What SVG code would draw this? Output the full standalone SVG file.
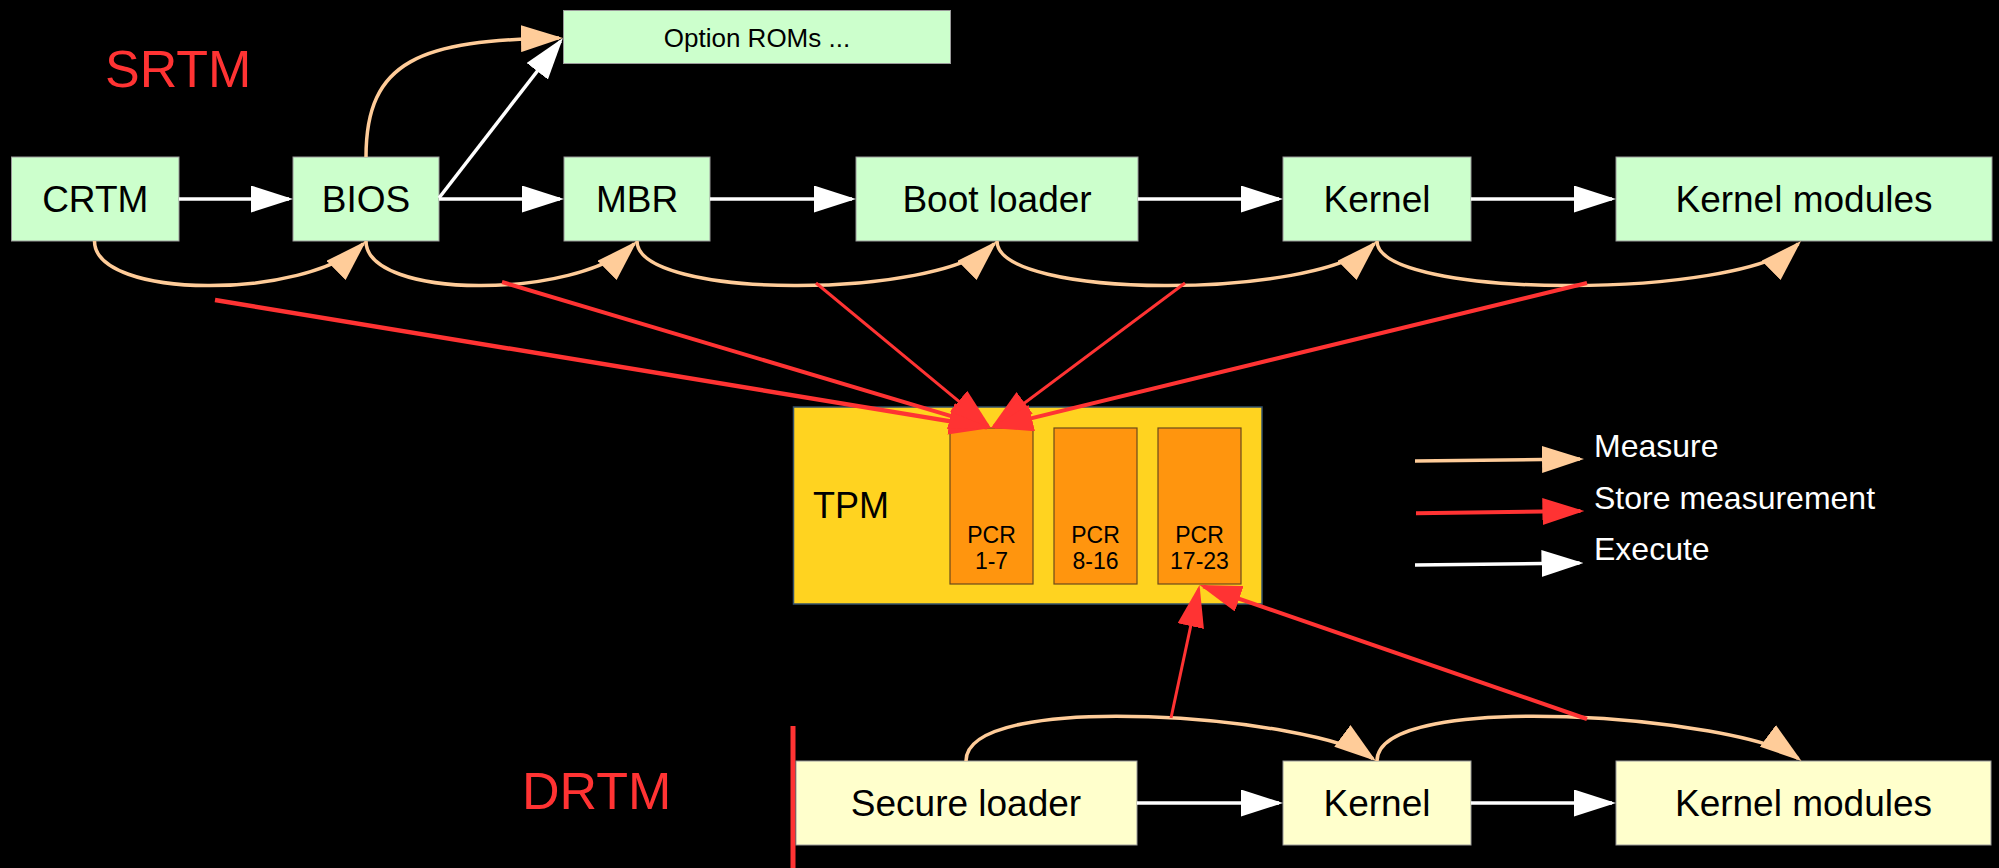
<svg xmlns="http://www.w3.org/2000/svg" width="1999" height="868" viewBox="0 0 1999 868">
  <style>
    .lbl { font-family: "Liberation Sans", Arial, sans-serif; fill: #000000; }
    .node text { font-size: 37px; text-anchor: middle; }
    .srtm { fill: #ccffcc; stroke: #9a9a9a; stroke-width: 1; }
    .drtm { fill: #ffffcc; stroke: #9a9a9a; stroke-width: 1; }
    .pcr { fill: #ff950e; stroke: #6b4a1b; stroke-width: 1.2; }
    .pcr-t { font-size: 23px; text-anchor: middle; }
    .title { font-family: "Liberation Sans", Arial, sans-serif; font-size: 52px; fill: #ff3333; }
    .legend { font-family: "Liberation Sans", Arial, sans-serif; font-size: 32px; fill: #ffffff; }
    .exec { fill: none; stroke: #ffffff; stroke-width: 3.5; marker-end: url(#head-exec); }
    .meas { fill: none; stroke: #ffcc99; stroke-width: 3.5; marker-end: url(#head-meas); }
    .store { fill: none; stroke: #ff3333; stroke-width: 4; marker-end: url(#head-store); }
  </style>
  <defs>
    <marker id="head-exec" markerUnits="userSpaceOnUse" viewBox="0 0 42 27" markerWidth="42" markerHeight="27" refX="38" refY="13.5" orient="auto">
      <path d="M0,0 L42,13.5 L0,27 Z" fill="#ffffff"/>
    </marker>
    <marker id="head-meas" markerUnits="userSpaceOnUse" viewBox="0 0 42 27" markerWidth="42" markerHeight="27" refX="38" refY="13.5" orient="auto">
      <path d="M0,0 L42,13.5 L0,27 Z" fill="#ffcc99"/>
    </marker>
    <marker id="head-store" markerUnits="userSpaceOnUse" viewBox="0 0 42 27" markerWidth="42" markerHeight="27" refX="38" refY="13.5" orient="auto">
      <path d="M0,0 L42,13.5 L0,27 Z" fill="#ff3333"/>
    </marker>
  </defs>

  <rect x="0" y="0" width="1999" height="868" fill="#000000"/>

  <!-- section titles -->
  <text class="title" x="105" y="87">SRTM</text>
  <text class="title" x="522" y="809">DRTM</text>
  <rect x="790.5" y="726" width="5" height="142" fill="#ff3333"/>

  <!-- static root of trust chain -->
  <g id="crtm" class="node lbl">
    <rect class="srtm" x="11.5" y="157" width="167.5" height="84"/>
    <text x="95.25" y="212">CRTM</text>
  </g>
  <g id="bios" class="node lbl">
    <rect class="srtm" x="293" y="157" width="146" height="84"/>
    <text x="366" y="212">BIOS</text>
  </g>
  <g id="option-roms" class="node lbl">
    <rect class="srtm" x="563.5" y="10.5" width="387" height="53"/>
    <text x="757" y="46.5" style="font-size:26px">Option ROMs ...</text>
  </g>
  <g id="mbr" class="node lbl">
    <rect class="srtm" x="564" y="157" width="146" height="84"/>
    <text x="637" y="212">MBR</text>
  </g>
  <g id="boot-loader" class="node lbl">
    <rect class="srtm" x="856" y="157" width="282" height="84"/>
    <text x="997" y="212">Boot loader</text>
  </g>
  <g id="kernel" class="node lbl">
    <rect class="srtm" x="1283" y="157" width="188" height="84"/>
    <text x="1377" y="212">Kernel</text>
  </g>
  <g id="kernel-modules" class="node lbl">
    <rect class="srtm" x="1616" y="157" width="376" height="84"/>
    <text x="1804" y="212">Kernel modules</text>
  </g>

  <!-- TPM with its PCR banks -->
  <g id="tpm" class="lbl">
    <rect x="793.5" y="407" width="468.5" height="197" fill="#ffd320" stroke="#355269" stroke-width="1.5"/>
    <text x="813" y="518" style="font-size:36px">TPM</text>
  </g>
  <g id="pcr-1-7" class="lbl">
    <rect class="pcr" x="950" y="428" width="83" height="156"/>
    <text class="pcr-t" x="991.5" y="543">PCR</text>
    <text class="pcr-t" x="991.5" y="568.5">1-7</text>
  </g>
  <g id="pcr-8-16" class="lbl">
    <rect class="pcr" x="1054" y="428" width="83" height="156"/>
    <text class="pcr-t" x="1095.5" y="543">PCR</text>
    <text class="pcr-t" x="1095.5" y="568.5">8-16</text>
  </g>
  <g id="pcr-17-23" class="lbl">
    <rect class="pcr" x="1158" y="428" width="83" height="156"/>
    <text class="pcr-t" x="1199.5" y="543">PCR</text>
    <text class="pcr-t" x="1199.5" y="568.5">17-23</text>
  </g>

  <!-- dynamic root of trust chain -->
  <g id="secure-loader" class="node lbl">
    <rect class="drtm" x="796" y="761" width="341" height="84"/>
    <text x="966" y="816">Secure loader</text>
  </g>
  <g id="kernel-drtm" class="node lbl">
    <rect class="drtm" x="1283" y="761" width="188" height="84"/>
    <text x="1377" y="816">Kernel</text>
  </g>
  <g id="kernel-modules-drtm" class="node lbl">
    <rect class="drtm" x="1616" y="761" width="375" height="84"/>
    <text x="1803.5" y="816">Kernel modules</text>
  </g>

  <g id="connectors">
    <!-- execute -->
    <path class="exec" d="M179 199 L289 199"/>
    <path class="exec" d="M439 199 L560 199"/>
    <path class="exec" d="M710 199 L852 199"/>
    <path class="exec" d="M1138 199 L1279 199"/>
    <path class="exec" d="M1471 199 L1612 199"/>
    <path class="exec" d="M439 198 L560.5 41.2"/>
    <path class="exec" d="M1137 803 L1279 803"/>
    <path class="exec" d="M1471 803 L1612 803"/>

    <!-- measure -->
    <path class="meas" d="M366 157 C366 60 420 40 559 38.1"/>
    <path class="meas" d="M94.5 241 C94.5 300 306 300 363.2 243.8"/>
    <path class="meas" d="M366 241 C366 300 577 300 634.2 243.8"/>
    <path class="meas" d="M637 241 C637 300 937 300 994.2 243.8"/>
    <path class="meas" d="M997 241 C997 300 1317 300 1374.2 243.8"/>
    <path class="meas" d="M1377 241 C1377 300 1741 300 1798.2 243.8"/>
    <path class="meas" d="M966 761 C966 688 1316.7 716.7 1372.8 758.6"/>
    <path class="meas" d="M1377 761 C1377 688 1742.2 716.7 1798.3 758.6"/>

    <!-- store measurement -->
    <path class="store" style="stroke-width:4.5" d="M215 300 L987.05 427.35"/>
    <path class="store" d="M502 282 L987.2 426.9"/>
    <path class="store" style="stroke-width:3" d="M816 283 L987.9 425.4"/>
    <path class="store" style="stroke-width:3" d="M1185 283 L994.2 425.6"/>
    <path class="store" d="M1587 283 L994.9 427.1"/>
    <path class="store" style="stroke-width:3" d="M1171 718 L1198.7 588.9"/>
    <path class="store" d="M1587 719 L1203.3 586.3"/>
  </g>

  <!-- legend -->
  <g id="legend">
    <path class="meas" d="M1415 461 L1580 459.05"/>
    <path class="store" d="M1416 513.3 L1580.4 511.05"/>
    <path class="exec" d="M1415 565 L1579.5 563.05"/>
    <text class="legend" x="1594" y="457">Measure</text>
    <text class="legend" x="1594" y="508.5">Store measurement</text>
    <text class="legend" x="1594" y="560">Execute</text>
  </g>
</svg>
